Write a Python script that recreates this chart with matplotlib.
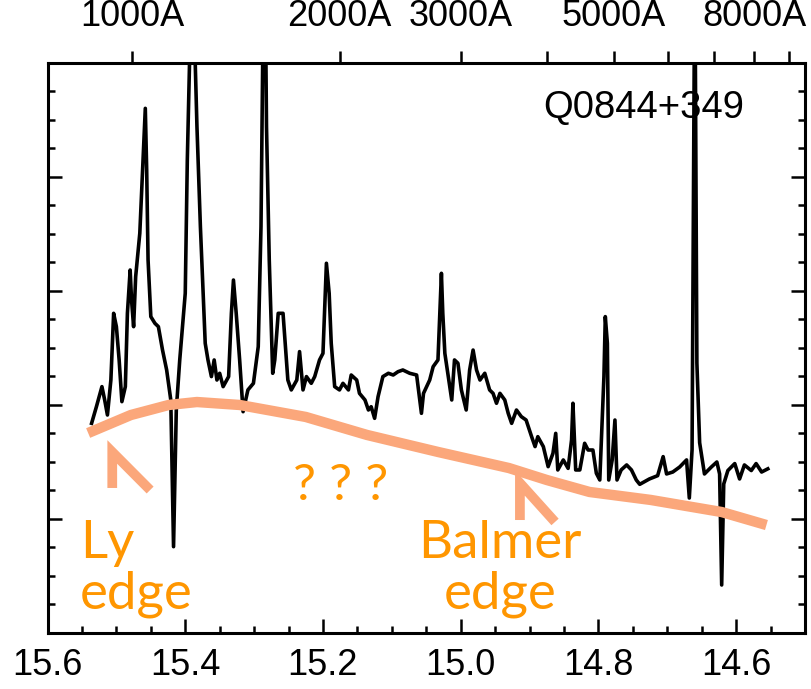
import numpy as np
import matplotlib
matplotlib.use("Agg")
import matplotlib.pyplot as plt
from matplotlib.ticker import MultipleLocator, FixedLocator, NullFormatter

# spectrum, log(nu) vs flux (arbitrary units)
log_nu = [15.536, 15.529, 15.521, 15.517, 15.513, 15.508, 15.504, 15.500, 15.496, 15.492,
          15.487, 15.484, 15.480, 15.478, 15.475, 15.472, 15.466, 15.462, 15.458, 15.456,
          15.454, 15.450, 15.444, 15.439, 15.433, 15.427, 15.421, 15.417, 15.413, 15.408,
          15.400, 15.397, 15.390, 15.383, 15.378, 15.371, 15.367, 15.362, 15.358, 15.354,
          15.350, 15.345, 15.337, 15.333, 15.330, 15.326, 15.321, 15.316, 15.309, 15.301,
          15.294, 15.290, 15.285, 15.282, 15.278, 15.273, 15.270, 15.265, 15.258, 15.251,
          15.246, 15.238, 15.234, 15.229, 15.224, 15.217, 15.212, 15.205, 15.200, 15.195,
          15.191, 15.188, 15.183, 15.176, 15.171, 15.163, 15.159, 15.151, 15.147, 15.139,
          15.134, 15.130, 15.125, 15.120, 15.113, 15.105, 15.098, 15.091, 15.084, 15.074,
          15.064, 15.057, 15.054, 15.045, 15.040, 15.033, 15.028, 15.026, 15.023, 15.018,
          15.013, 15.009, 15.004, 14.999, 14.992, 14.987, 14.982, 14.977, 14.972, 14.965,
          14.958, 14.953, 14.948, 14.943, 14.936, 14.931, 14.926, 14.919, 14.912, 14.905,
          14.897, 14.892, 14.888, 14.880, 14.873, 14.866, 14.862, 14.859, 14.851, 14.844,
          14.839, 14.837, 14.833, 14.827, 14.820, 14.815, 14.808, 14.803, 14.798, 14.792,
          14.790, 14.787, 14.785, 14.780, 14.776, 14.773, 14.767, 14.759, 14.752, 14.745,
          14.740, 14.726, 14.714, 14.706, 14.701, 14.692, 14.682, 14.672, 14.668, 14.664,
          14.660, 14.657, 14.653, 14.646, 14.636, 14.628, 14.624, 14.621, 14.618, 14.612,
          14.602, 14.595, 14.588, 14.578, 14.571, 14.563, 14.554]
flux = [1.839, 1.985, 2.161, 2.044, 1.912, 2.219, 2.804, 2.687, 2.395, 2.029,
        2.161, 2.804, 3.184, 2.921, 2.687, 3.126, 3.506, 4.061, 4.602, 4.061,
        3.272, 2.775, 2.716, 2.687, 2.482, 2.307, 2.044, 0.757, 1.956, 2.395,
        2.980, 4.149, 6.000, 4.441, 3.564, 2.541, 2.395, 2.249, 2.395, 2.219,
        2.278, 2.161, 2.249, 2.804, 3.096, 2.804, 2.395, 1.941, 2.132, 2.190,
        2.512, 3.564, 6.500, 4.441, 3.272, 2.278, 2.395, 2.804, 2.804, 2.219,
        2.132, 2.219, 2.468, 2.132, 2.249, 2.190, 2.249, 2.395, 2.453, 3.243,
        2.980, 2.541, 2.161, 2.132, 2.190, 2.132, 2.263, 2.219, 2.102, 2.044,
        1.956, 1.985, 1.883, 2.073, 2.249, 2.278, 2.263, 2.292, 2.307, 2.278,
        2.263, 1.927, 2.102, 2.219, 2.336, 2.395, 3.155, 2.804, 2.453, 2.249,
        2.044, 2.395, 2.366, 2.132, 1.956, 2.307, 2.482, 2.307, 2.219, 2.278,
        2.132, 2.102, 2.015, 2.102, 2.044, 1.927, 1.839, 1.956, 1.898, 1.868,
        1.722, 1.635, 1.722, 1.635, 1.459, 1.576, 1.751, 1.430, 1.518, 1.444,
        1.693, 2.015, 1.430, 1.430, 1.664, 1.605, 1.605, 1.401, 1.342, 2.249,
        2.775, 2.541, 1.342, 1.518, 1.868, 1.342, 1.430, 1.474, 1.430, 1.342,
        1.304, 1.351, 1.380, 1.547, 1.395, 1.412, 1.456, 1.518, 1.184, 1.608,
        6.000, 2.368, 1.669, 1.395, 1.456, 1.500, 1.395, 0.421, 1.307, 1.425,
        1.486, 1.351, 1.474, 1.425, 1.486, 1.412, 1.440]

# hand-drawn continuum guess
cont_x = [15.541, 15.479, 15.424, 15.383, 15.321, 15.225, 15.136, 15.033, 14.930, 14.875,
          14.813, 14.724, 14.621, 14.556]
cont_y = [1.754, 1.912, 2.000, 2.026, 2.000, 1.895, 1.737, 1.588, 1.447, 1.342,
          1.237, 1.167, 1.061, 0.947]

# chevron pointers
ly_x = [15.506, 15.506, 15.451]
ly_y = [1.272, 1.588, 1.254]
ba_x = [14.914, 14.914, 14.863]
ba_y = [0.991, 1.316, 0.974]

# top axis wavelengths (Angstrom)
wl_ticks = [1000, 2000, 3000, 4000, 5000, 6000, 7000, 8000, 9000]
wl_labeled = [1000, 2000, 3000, 5000, 8000]

orange_line = '#FBA77B'
orange_text = '#FF9600'
tick_font = ['Liberation Sans Narrow', 'Liberation Sans', 'DejaVu Sans']

fig = plt.figure(figsize=(8.11, 6.89), dpi=100)
ax = fig.add_axes([0.0586, 0.0813, 0.9340, 0.8273])

ax.plot(log_nu, flux, color='black', lw=2.6)
ax.plot(cont_x, cont_y, color=orange_line, lw=7.5, solid_capstyle='butt')
ax.plot(ly_x, ly_y, color=orange_line, lw=7, solid_capstyle='butt', solid_joinstyle='miter')
ax.plot(ba_x, ba_y, color=orange_line, lw=7, solid_capstyle='butt', solid_joinstyle='miter')

ax.set_xlim(15.6, 14.5)
ax.set_ylim(0, 5)

ax.xaxis.set_major_locator(MultipleLocator(0.2))
ax.xaxis.set_minor_locator(MultipleLocator(0.05))
ax.yaxis.set_major_locator(MultipleLocator(1))
ax.yaxis.set_minor_locator(MultipleLocator(0.25))
ax.yaxis.set_major_formatter(NullFormatter())
ax.set_xticks([15.6, 15.4, 15.2, 15.0, 14.8, 14.6])
ax.set_xticklabels(['15.6', '15.4', '15.2', '15.0', '14.8', '14.6'])
ax.tick_params(which='both', direction='in', top=True, right=True, width=1.8)
ax.tick_params(which='major', length=10)
ax.tick_params(which='minor', length=5)
ax.tick_params(axis='x', pad=11, labelsize=26)
for lab in ax.get_xticklabels():
    lab.set_family(tick_font)
for sp in ax.spines.values():
    sp.set_linewidth(2.2)

# wavelength axis on top
top = ax.twiny()
top.set_xlim(15.6, 14.5)
pos = [np.log10(2.998e18 / w) for w in wl_ticks]
top.xaxis.set_major_locator(FixedLocator(pos))
top.set_xticklabels([f'{w}A' if w in wl_labeled else '' for w in wl_ticks])
top.tick_params(axis='x', direction='out', length=9, width=1.8, pad=12, labelsize=26)
for lab in top.get_xticklabels():
    lab.set_family(tick_font)
for sp in top.spines.values():
    sp.set_visible(False)

ax.text(14.588, 4.518, 'Q0844+349', ha='right', va='baseline', fontsize=27.5,
        family=['Liberation Sans', 'DejaVu Sans'])

afont = ['Lato', 'DejaVu Sans']
ax.text(15.553, 0.66, 'Ly', ha='left', va='baseline', fontsize=38, color=orange_text, family=afont)
ax.text(15.553, 0.215, 'edge', ha='left', va='baseline', fontsize=38, color=orange_text, family=afont)
ax.text(14.943, 0.66, 'Balmer', ha='center', va='baseline', fontsize=38, color=orange_text, family=afont)
ax.text(14.943, 0.215, 'edge', ha='center', va='baseline', fontsize=38, color=orange_text, family=afont)
ax.text(15.175, 1.167, '? ? ?', ha='center', va='baseline', fontsize=37, color=orange_text, family=afont)

fig.savefig('out.png', dpi=100)
